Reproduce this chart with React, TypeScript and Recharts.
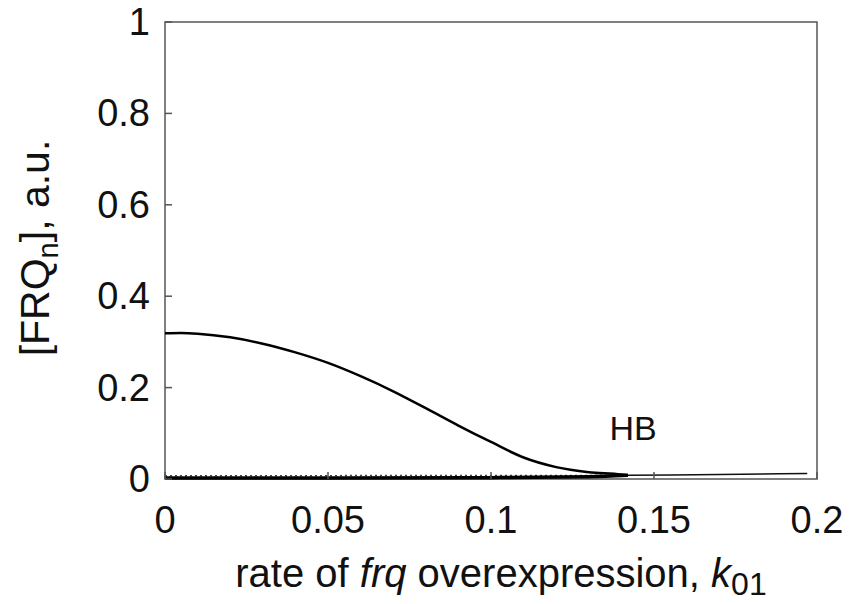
import {
  ComposedChart,
  Line,
  XAxis,
  YAxis,
  ReferenceArea,
  ReferenceDot,
  Label,
} from "recharts";

// stable limit cycle, maximum of FRQn
const upperK = [0, 0.005, 0.01, 0.02, 0.03, 0.04, 0.05, 0.06, 0.07, 0.08, 0.09, 0.1, 0.11, 0.12, 0.13, 0.14, 0.142];
const upperV = [0.319, 0.3195, 0.318, 0.31, 0.296, 0.277, 0.254, 0.225, 0.192, 0.155, 0.117, 0.081, 0.047, 0.026, 0.015, 0.01, 0.008];

// stable limit cycle, minimum
const lowerK = [0, 0.05, 0.1, 0.13, 0.142];
const lowerV = [0.002, 0.002, 0.003, 0.005, 0.008];

// unstable steady state (dotted)
const unstableK = [0, 0.07, 0.142];
const unstableV = [0.007, 0.0075, 0.008];

// stable steady state after HB
const stableK = [0.142, 0.17, 0.197];
const stableV = [0.008, 0.01, 0.012];

const xTicks = [0, 0.05, 0.1, 0.15, 0.2];
const yTicks = [0, 0.2, 0.4, 0.6, 0.8, 1];

const toPts = (ks: number[], vs: number[]) => ks.map((k, i) => ({ k, v: vs[i] }));

const FONT = "'Liberation Sans', Arial, sans-serif";
const AXIS = "#555";
const XM = 54;
const YM = 15;

const XTick = (p: any) => (
  <g>
    <line x1={p.x} x2={p.x} y1={p.y - XM} y2={p.y - XM - 7} stroke={AXIS} strokeWidth={1.5} />
    <text x={p.x} y={p.y} textAnchor="middle" fontSize={38} fontFamily={FONT} fill="#111">
      {String(p.payload.value)}
    </text>
  </g>
);

const YTick = (p: any) => (
  <g>
    <line x1={p.x + YM} x2={p.x + YM + 7} y1={p.y} y2={p.y} stroke={AXIS} strokeWidth={1.5} />
    <text x={p.x} y={p.y} dy={13} textAnchor="end" fontSize={38} fontFamily={FONT} fill="#111">
      {String(p.payload.value)}
    </text>
  </g>
);

const YTitle = () => (
  <text
    x={49}
    y={248}
    transform="rotate(-90 49 248)"
    textAnchor="middle"
    fontSize={41}
    fontFamily={FONT}
    fill="#111"
  >
    [FRQ
    <tspan dy={9} fontSize={29}>n</tspan>
    <tspan dy={-9}>], a.u.</tspan>
  </text>
);

const XTitle = () => (
  <text x={501} y={587} textAnchor="middle" fontSize={40} fontFamily={FONT} fill="#111">
    rate of <tspan fontStyle="italic">frq</tspan> overexpression,{" "}
    <tspan fontStyle="italic">k</tspan>
    <tspan dy={8} fontSize={32}>01</tspan>
  </text>
);

export default function App() {
  return (
    <div style={{ position: "absolute", left: 0, top: 0, background: "#fff" }}>
      <ComposedChart width={852} height={604} margin={{ top: 22, right: 35, bottom: 0, left: 0 }}>
        <XAxis
          type="number"
          dataKey="k"
          domain={[0, 0.2]}
          ticks={xTicks}
          height={125}
          axisLine={false}
          tickLine={false}
          tickSize={0}
          tickMargin={XM}
          tick={<XTick />}
          interval={0}
        >
          <Label content={<XTitle />} />
        </XAxis>
        <YAxis
          type="number"
          dataKey="v"
          domain={[0, 1]}
          ticks={yTicks}
          width={165}
          axisLine={false}
          tickLine={false}
          tickSize={0}
          tickMargin={YM}
          tick={<YTick />}
          interval={0}
        >
          <Label content={<YTitle />} />
        </YAxis>
        <ReferenceArea x1={0} x2={0.2} y1={0} y2={1} fill="none" stroke={AXIS} strokeWidth={1.5} />
        <Line
          data={toPts(unstableK, unstableV)}
          dataKey="v"
          type="linear"
          stroke="#444"
          strokeWidth={1.5}
          strokeDasharray="2 3"
          dot={false}
          isAnimationActive={false}
        />
        <Line
          data={toPts(lowerK, lowerV)}
          dataKey="v"
          type="monotone"
          stroke="#000"
          strokeWidth={3.5}
          dot={false}
          isAnimationActive={false}
        />
        <Line
          data={toPts(stableK, stableV)}
          dataKey="v"
          type="monotone"
          stroke="#111"
          strokeWidth={1.5}
          dot={false}
          isAnimationActive={false}
        />
        <Line
          data={toPts(upperK, upperV)}
          dataKey="v"
          type="monotone"
          stroke="#000"
          strokeWidth={2.5}
          dot={false}
          isAnimationActive={false}
        />
        <ReferenceDot
          x={0.1436}
          y={0.112}
          r={0}
          fill="none"
          stroke="none"
          label={{ value: "HB", position: "center", fontSize: 34, fontFamily: FONT, fill: "#111" }}
        />
      </ComposedChart>
    </div>
  );
}
